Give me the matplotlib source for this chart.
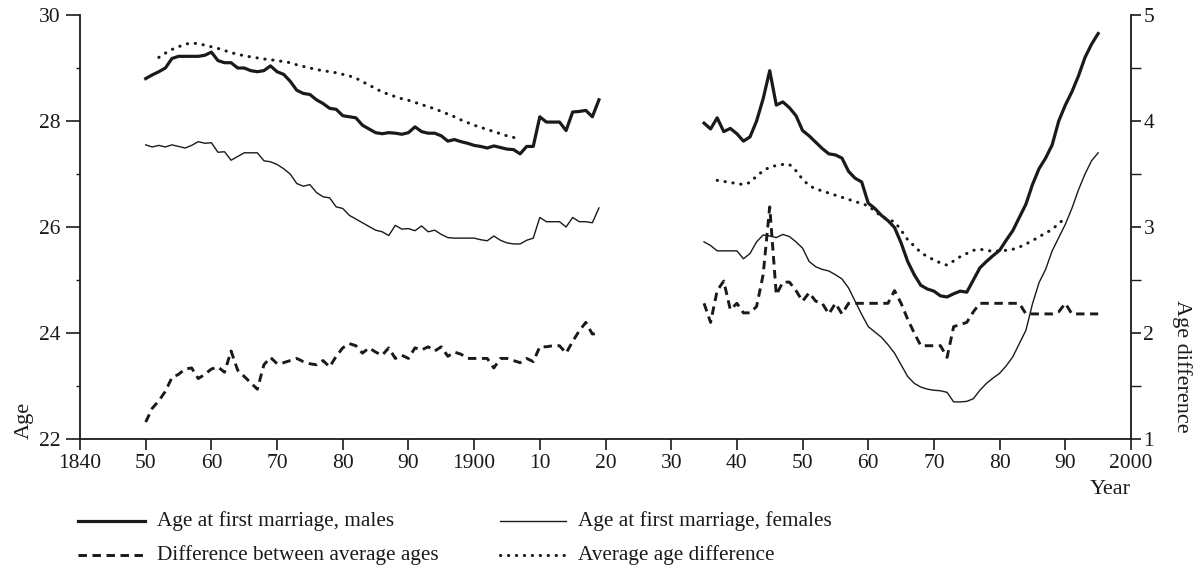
import matplotlib
matplotlib.use("Agg")
import matplotlib.pyplot as plt
from matplotlib.lines import Line2D
from matplotlib.ticker import FixedLocator, FuncFormatter

plt.rcParams['font.family'] = ['Liberation Serif', 'DejaVu Serif']

# ---------------- data ----------------
years_a = list(range(1850, 1920))
males_a = [28.80, 28.87, 28.93, 29.00, 29.18, 29.22, 29.22, 29.22, 29.22, 29.24,
           29.30, 29.14, 29.10, 29.10, 29.00, 29.00, 28.95, 28.93, 28.95, 29.04,
           28.93, 28.88, 28.75, 28.58, 28.52, 28.50, 28.40, 28.33, 28.24, 28.22,
           28.10, 28.08, 28.06, 27.92, 27.85, 27.78, 27.76, 27.78, 27.77, 27.75,
           27.78, 27.89, 27.80, 27.77, 27.77, 27.72, 27.62, 27.65, 27.61, 27.58,
           27.54, 27.52, 27.49, 27.53, 27.50, 27.47, 27.46, 27.38, 27.52, 27.52,
           28.08, 27.98, 27.98, 27.98, 27.82, 28.17, 28.18, 28.20, 28.08, 28.40]
females_a = [27.55, 27.51, 27.54, 27.51, 27.55, 27.52, 27.49, 27.54, 27.61, 27.58,
             27.59, 27.41, 27.42, 27.26, 27.33, 27.40, 27.40, 27.40, 27.25, 27.23,
             27.18, 27.10, 27.00, 26.82, 26.77, 26.80, 26.65, 26.57, 26.55, 26.38,
             26.35, 26.22, 26.15, 26.08, 26.01, 25.94, 25.91, 25.84, 26.03, 25.96,
             25.97, 25.93, 26.02, 25.91, 25.94, 25.86, 25.80, 25.79, 25.79, 25.79,
             25.79, 25.76, 25.74, 25.83, 25.75, 25.70, 25.68, 25.68, 25.75, 25.79,
             26.18, 26.10, 26.10, 26.10, 26.00, 26.18, 26.10, 26.10, 26.08, 26.36]
diff_a = [1.16, 1.29, 1.36, 1.45, 1.58, 1.61, 1.66, 1.67, 1.57, 1.61,
          1.66, 1.68, 1.63, 1.83, 1.65, 1.59, 1.53, 1.47, 1.70, 1.77,
          1.71, 1.72, 1.74, 1.76, 1.73, 1.71, 1.70, 1.74, 1.68, 1.78,
          1.86, 1.90, 1.88, 1.81, 1.86, 1.82, 1.79, 1.86, 1.76, 1.79,
          1.76, 1.86, 1.84, 1.87, 1.83, 1.87, 1.78, 1.82, 1.80, 1.76,
          1.76, 1.76, 1.76, 1.67, 1.76, 1.76, 1.74, 1.72, 1.76, 1.73,
          1.87, 1.87, 1.88, 1.88, 1.81, 1.92, 2.02, 2.10, 1.99, 2.00]
years_avg_a = list(range(1852, 1908))
avgdiff_a = [4.600, 4.640, 4.675, 4.700, 4.725, 4.735, 4.730, 4.715, 4.700, 4.685,
             4.665, 4.645, 4.630, 4.615, 4.605, 4.595, 4.585, 4.578, 4.570, 4.560,
             4.550, 4.530, 4.515, 4.500, 4.485, 4.475, 4.465, 4.455, 4.440, 4.425,
             4.405, 4.370, 4.340, 4.305, 4.275, 4.250, 4.230, 4.210, 4.195, 4.175,
             4.155, 4.135, 4.115, 4.090, 4.065, 4.040, 4.010, 3.985, 3.960, 3.940,
             3.920, 3.900, 3.880, 3.860, 3.845, 3.830]

years_b = list(range(1935, 1996))
males_b = [27.96, 27.85, 28.06, 27.80, 27.86, 27.76, 27.62, 27.70, 28.00, 28.42,
           28.95, 28.30, 28.36, 28.25, 28.10, 27.82, 27.72, 27.60, 27.48, 27.38,
           27.36, 27.30, 27.05, 26.92, 26.85, 26.45, 26.35, 26.22, 26.12, 25.99,
           25.70, 25.35, 25.10, 24.90, 24.83, 24.79, 24.70, 24.68, 24.74, 24.79,
           24.77, 25.00, 25.23, 25.35, 25.46, 25.56, 25.75, 25.93, 26.18, 26.43,
           26.80, 27.10, 27.30, 27.55, 28.00, 28.30, 28.55, 28.85, 29.20, 29.45,
           29.65]
females_b = [25.72, 25.65, 25.55, 25.55, 25.55, 25.55, 25.40, 25.50, 25.72, 25.85,
             25.83, 25.80, 25.86, 25.82, 25.72, 25.60, 25.35, 25.25, 25.20, 25.17,
             25.10, 25.02, 24.85, 24.60, 24.35, 24.12, 24.02, 23.92, 23.78, 23.62,
             23.40, 23.18, 23.05, 22.98, 22.94, 22.92, 22.91, 22.88, 22.70, 22.70,
             22.71, 22.76, 22.92, 23.05, 23.15, 23.24, 23.38, 23.55, 23.80, 24.05,
             24.55, 24.95, 25.20, 25.55, 25.80, 26.05, 26.35, 26.70, 27.00, 27.25,
             27.40]
diff_b = [2.28, 2.10, 2.40, 2.49, 2.22, 2.28, 2.19, 2.19, 2.25, 2.55,
          3.19, 2.36, 2.48, 2.48, 2.40, 2.30, 2.38, 2.30, 2.28, 2.18,
          2.28, 2.18, 2.28, 2.28, 2.28, 2.28, 2.28, 2.28, 2.28, 2.40,
          2.28, 2.13, 2.00, 1.88, 1.88, 1.88, 1.88, 1.77, 2.06, 2.08,
          2.10, 2.20, 2.28, 2.28, 2.28, 2.28, 2.28, 2.28, 2.28, 2.18,
          2.18, 2.18, 2.18, 2.18, 2.20, 2.28, 2.18, 2.18, 2.18, 2.18,
          2.18]
years_avg_b = list(range(1937, 1991))
avgdiff_b = [3.44, 3.43, 3.42, 3.41, 3.40, 3.42, 3.48, 3.53, 3.565, 3.58,
             3.59, 3.59, 3.53, 3.45, 3.39, 3.36, 3.34, 3.32, 3.30, 3.28,
             3.26, 3.24, 3.22, 3.20, 3.15, 3.10, 3.07, 3.05, 2.97, 2.88,
             2.82, 2.76, 2.72, 2.69, 2.66, 2.64, 2.68, 2.72, 2.75, 2.78,
             2.79, 2.78, 2.77, 2.775, 2.78, 2.79, 2.81, 2.84, 2.87, 2.91,
             2.94, 2.98, 3.03, 3.09]

x_ticks = [1840, 1850, 1860, 1870, 1880, 1890, 1900, 1910, 1920, 1930,
           1940, 1950, 1960, 1970, 1980, 1990, 2000]
age_ticks = [22, 24, 26, 28, 30]
diff_ticks = [1, 2, 3, 4, 5]

legend_labels = ["Age at first marriage, males", "Age at first marriage, females",
                 "Difference between average ages", "Average age difference"]

# ---------------- figure ----------------
ink = '#1a1a1a'
DASH = (0, (2.9, 1.9))
DOT = (0, (0.1, 2.5))
fig = plt.figure(figsize=(11.97, 5.70), dpi=100)
ax = fig.add_axes([80/1197, 1-439/570, (1131-80)/1197, (439-15)/570])
ax2 = ax.twinx()

ax.plot(years_a, males_a, color=ink, lw=2.3, solid_joinstyle='round')
ax.plot(years_b, males_b, color=ink, lw=2.3, solid_joinstyle='round')
ax.plot(years_a, females_a, color=ink, lw=1.0)
ax.plot(years_b, females_b, color=ink, lw=1.0)
ax2.plot(years_a, diff_a, color=ink, lw=2.1, linestyle=DASH)
ax2.plot(years_b, diff_b, color=ink, lw=2.1, linestyle=DASH)
ax2.plot(years_avg_a, avgdiff_a, color=ink, lw=2.2, linestyle=DOT, dash_capstyle='round')
ax2.plot(years_avg_b, avgdiff_b, color=ink, lw=2.2, linestyle=DOT, dash_capstyle='round')

ax.set_xlim(1840, 2000)
ax.set_ylim(22, 30)
ax2.set_ylim(1, 5)

def year_fmt(v, pos):
    v = int(round(v))
    if v == x_ticks[0] or v % 100 == 0:
        return str(v)
    return "%02d" % (v % 100)

ax.xaxis.set_major_locator(FixedLocator(x_ticks))
ax.xaxis.set_major_formatter(FuncFormatter(year_fmt))
ax.yaxis.set_major_locator(FixedLocator(age_ticks))
ax.yaxis.set_minor_locator(FixedLocator([23, 25, 27, 29]))
ax2.yaxis.set_major_locator(FixedLocator(diff_ticks))
ax2.yaxis.set_minor_locator(FixedLocator([1.5, 2.5, 3.5, 4.5]))

for a in (ax, ax2):
    for s in a.spines.values():
        s.set_color(ink)
        s.set_linewidth(1.3)
    a.spines['top'].set_visible(False)
ax.spines['right'].set_visible(False)
ax2.spines['left'].set_visible(False)
ax2.spines['bottom'].set_visible(False)

ax.tick_params(axis='x', which='major', direction='out', length=8, width=1.2,
               colors=ink, labelsize=15.5, pad=3)
ax.tick_params(axis='y', which='major', direction='out', length=10, width=1.2,
               colors=ink, labelsize=15.5, pad=4)
ax.tick_params(axis='y', which='minor', direction='out', length=3, width=1.0, colors=ink)
ax2.tick_params(axis='y', which='major', direction='out', length=7, width=1.2,
                colors=ink, labelsize=15.5, pad=2)
ax2.tick_params(axis='y', which='minor', direction='out', length=7, width=1.0, colors=ink)

ax.set_ylabel("Age", fontsize=16, color=ink, loc='bottom', labelpad=4)
fig.text(1182/1197, 1-366/570, "Age difference", fontsize=16, color=ink,
         rotation=270, ha='center', va='center')
fig.text(1131/1197, 1-490/570, "Year", fontsize=16, color=ink, ha='right', va='center')

# ---------------- legend ----------------
def leg_item(x0, x1, xt, y, label, **kw):
    fy = 1 - y/570
    fig.add_artist(Line2D([x0/1197, x1/1197], [fy, fy], color=ink, **kw))
    fig.text(xt/1197, fy, label, fontsize=15.3, color=ink, va='center', ha='left')

leg_item(78, 145, 157, 521, legend_labels[0], lw=2.3)
leg_item(500, 566, 578, 521, legend_labels[1], lw=1.0)
leg_item(78, 145, 157, 555, legend_labels[2], lw=2.1, linestyle=DASH)
leg_item(500, 566, 578, 555, legend_labels[3], lw=2.2, linestyle=DOT, dash_capstyle='round')

fig.savefig("out.png", dpi=100)
